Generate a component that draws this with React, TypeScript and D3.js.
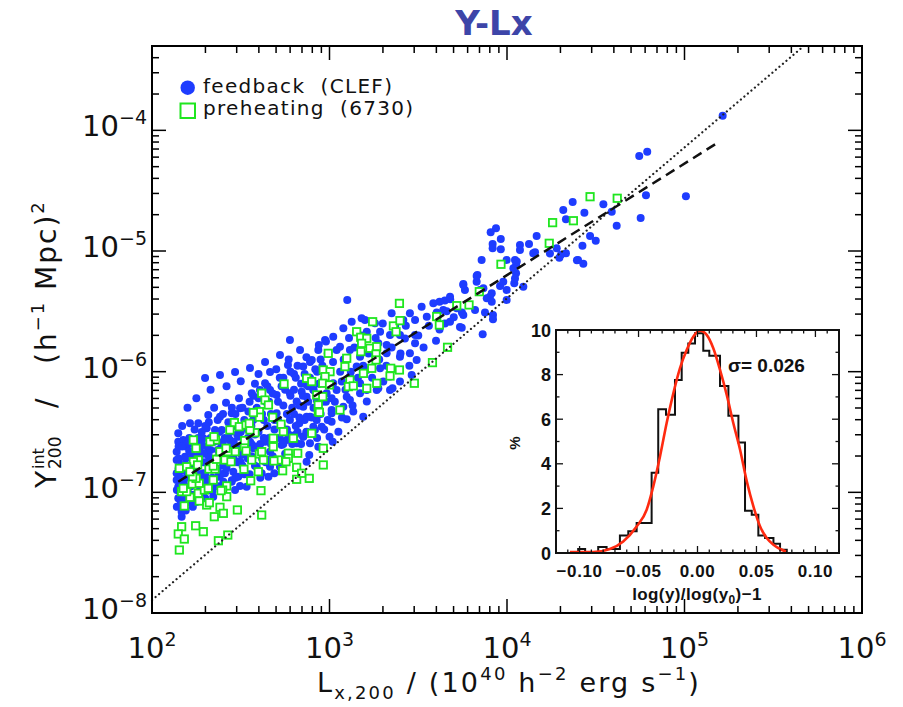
import React from "react";
import * as d3 from "d3";

// ---------- main scatter data: [log10 Lx,200 , log10 Y200] ----------
const feedbackLog: [number, number][] = [
  [5.215, -3.879], [4.745, -4.213], [4.79, -4.177], [4.783, -4.538], [5.008, -4.547], [4.753, -4.726],
  [4.618, -4.79], [4.59, -4.674], [4.543, -4.613], [4.436, -4.683], [4.37, -4.594], [4.317, -4.66],
  [4.332, -4.737], [4.468, -4.876], [4.5, -4.914], [4.425, -4.956], [4.28, -4.978], [4.332, -5.019],
  [4.295, -5.055], [4.394, -5.077], [4.43, -5.105], [4.167, -4.876], [4.124, -4.942], [4.073, -4.95],
  [4.073, -4.992], [4.158, -5.011], [3.938, -4.811], [3.908, -4.845], [3.965, -4.9], [3.919, -4.942],
  [3.919, -4.978], [3.965, -4.986], [3.857, -5.075], [4.045, -5.075], [4.051, -5.116], [4.051, -5.185],
  [3.998, -5.075], [4.041, -5.268], [4.092, -5.296], [3.833, -5.199], [3.829, -5.255], [3.904, -5.379],
  [3.914, -5.42], [3.961, -5.29], [3.754, -5.273], [3.763, -5.323], [3.867, -5.309], [3.65, -5.41],
  [3.62, -5.42], [3.68, -5.4], [3.746, -5.51], [3.921, -5.53], [3.921, -5.565], [3.735, -5.63],
  [3.65, -5.6], [3.604, -5.51],
  [3.1, -5.406], [3.863, -5.69], [3.829, -5.207], [3.754, -5.282], [3.679, -5.379], [3.585, -5.434],
  [3.519, -5.462], [3.453, -5.516], [3.35, -5.516], [3.256, -5.599], [3.2, -5.572], [3.416, -5.572],
  [3.482, -5.572], [3.548, -5.545], [3.641, -5.489], [3.717, -5.475], [3.754, -5.53], [3.82, -5.489],
  [3.876, -5.51], [3.886, -5.392], [3.914, -5.35], [3.998, -5.323], [3.848, -5.323], [3.979, -5.255],
  [4.045, -5.227], [3.998, -5.406], [4.036, -5.143], [4.055, -5.087], [4.148, -5.019], [4.242, -5.02],
  [4.304, -5.03], [4.4, -5.075], [3.679, -5.586], [3.745, -5.636], [3.6, -5.743], [3.482, -5.696],
  [3.482, -5.765], [3.425, -5.726], [3.397, -5.696], [3.341, -5.696], [3.285, -5.669], [3.322, -5.779],
  [3.275, -5.765], [3.453, -5.848], [3.491, -5.903], [3.397, -5.876], [3.322, -5.848], [3.266, -5.82],
  [3.21, -5.669], [3.181, -5.558], [3.125, -5.586], [3.078, -5.641], [3.021, -5.71], [2.975, -5.738],
  [2.937, -5.82], [2.9, -5.903], [2.852, -5.958], [3.059, -5.793], [3.115, -5.82], [3.172, -5.876],
  [3.153, -5.958], [3.21, -5.986], [3.285, -5.972], [3.341, -6.041], [3.303, -6.082], [3.266, -6.152],
  [3.341, -6.152], [3.397, -6.082], [3.463, -6.028], [3.21, -6.152], [3.172, -6.096], [3.115, -6.041],
  [3.069, -6.082], [3.021, -6.096], [2.965, -6.096], [2.909, -6.152], [2.871, -6.207], [2.852, -6.29],
  [2.946, -6.235], [3.012, -6.221], [3.097, -6.207], [3.172, -6.179], [3.078, -6.29], [3.012, -6.318],
  [3.21, -6.248], [3.012, -6.414], [3.05, -6.497], [2.928, -6.4], [2.918, -6.483], [2.871, -6.497],
  [2.852, -6.538], [2.871, -6.373],
  [2.417, -6.257], [2.148, -6.511], [2.148, -6.58], [2.167, -7.202], [2.167, -7.16], [2.496, -6.947],
  [2.618, -6.842], [3.097, -6.395], [3.355, -6.138], [3.275, -6.138], [2.937, -6.622], [2.886, -6.691],
  [2.871, -6.746], [2.689, -6.842], [2.656, -6.87], [2.533, -6.953], [2.468, -6.981], [2.345, -7.036],
  [2.148, -7.049], [2.139, -6.898], [2.139, -6.732], [2.139, -6.663], [2.139, -6.842], [2.148, -6.953],
  [2.186, -6.705], [2.195, -6.622], [2.214, -6.428], [2.261, -6.428], [2.317, -6.359], [2.383, -6.373],
  [2.449, -6.345], [2.496, -6.303], [2.543, -6.331], [2.562, -6.179], [2.608, -6.152], [2.665, -6.152],
  [2.637, -6.096], [2.702, -6.193], [2.777, -6.179], [2.815, -6.248], [2.843, -6.166], [2.871, -6.11],
  [2.702, -6.345], [2.777, -6.4], [2.83, -6.428], [2.852, -6.539], [2.806, -6.525], [2.758, -6.566],
  [2.73, -6.608], [2.665, -6.663], [2.637, -6.58], [2.552, -6.58], [2.486, -6.539], [2.439, -6.566],
  [2.393, -6.483], [2.355, -6.483], [2.308, -6.469], [2.289, -6.552], [2.27, -6.635], [2.299, -6.677],
  [2.214, -6.663], [2.176, -6.566], [2.167, -6.773], [2.176, -6.898], [2.199, -6.856], [2.289, -6.842],
  [2.308, -6.925], [2.374, -6.87], [2.411, -6.842], [2.458, -6.829], [2.449, -6.912], [2.402, -6.912],
  [2.486, -6.87], [2.59, -6.788], [2.665, -6.788], [2.721, -6.788], [2.656, -6.732], [2.486, -6.746],
  [2.505, -6.691], [2.571, -6.635], [2.458, -6.608], [2.815, -6.594], [2.89, -6.594], [3.0, -6.539],
  [2.956, -6.456], [2.909, -6.456], [2.89, -6.373], [2.928, -6.235], [2.984, -6.179], [3.04, -6.152],
  [3.115, -6.235], [3.134, -6.331], [3.19, -6.373], [3.012, -6.345], [3.018, -6.58],
  [2.777, -5.737], [2.834, -5.82], [2.721, -5.862], [2.637, -5.92], [2.552, -5.97], [2.665, -6.003],
  [2.468, -6.003], [2.383, -6.028], [2.299, -6.052], [2.766, -5.945], [2.6, -6.02], [2.5, -6.08],
  [2.42, -6.12], [2.33, -6.15], [2.25, -6.22], [2.2, -6.3], [2.74, -6.05], [2.8, -6.02], [2.7, -5.98],
  [2.58, -6.1],
  [2.16, -7.0], [2.18, -6.93], [2.2, -6.78], [2.22, -6.95], [2.24, -6.88], [2.23, -6.7], [2.19, -6.6],
  [2.25, -6.62], [2.21, -7.08], [2.24, -7.02], [2.17, -6.82], [2.26, -6.55], [2.15, -6.72],
  [2.27, -6.98], [2.29, -6.75], [2.31, -6.62], [2.33, -6.8], [2.35, -6.58], [2.36, -6.72], [2.38, -6.95],
  [2.39, -6.6], [2.28, -6.5], [2.32, -6.42], [2.37, -6.4], [2.34, -6.99], [2.4, -6.78], [2.3, -7.05],
  [2.36, -6.52], [2.41, -6.68], [2.43, -6.55], [2.44, -6.75], [2.46, -6.45], [2.47, -6.88], [2.48, -6.62],
  [2.5, -6.5], [2.51, -6.78], [2.52, -6.4], [2.53, -6.68], [2.54, -6.55], [2.45, -6.3], [2.42, -6.95],
  [2.55, -6.85], [2.49, -6.22], [2.56, -6.45], [2.58, -6.62], [2.59, -6.3], [2.6, -6.5], [2.62, -6.72],
  [2.63, -6.4], [2.64, -6.25], [2.66, -6.55], [2.67, -6.35], [2.68, -6.7], [2.69, -6.48], [2.57, -6.2],
  [2.61, -6.88], [2.65, -6.12], [2.71, -6.4], [2.72, -6.55], [2.74, -6.28], [2.75, -6.68], [2.76, -6.48],
  [2.78, -6.2], [2.79, -6.6], [2.8, -6.35], [2.82, -6.5], [2.83, -6.28], [2.84, -6.1], [2.73, -6.12],
  [2.81, -6.05], [2.77, -5.9], [2.86, -6.4], [2.88, -6.25], [2.89, -6.05], [2.91, -6.3], [2.93, -6.0],
  [2.95, -6.35], [2.96, -5.95], [2.98, -6.25], [2.99, -5.85], [2.87, -5.88], [2.94, -5.78], [2.97, -6.48],
  [2.14, -7.12], [2.15, -6.62], [2.16, -6.88], [2.17, -6.45], [2.18, -7.05], [2.19, -6.72], [2.2, -6.98],
  [2.21, -6.55], [2.22, -6.82], [2.23, -7.12], [2.24, -6.48], [2.25, -6.92], [2.26, -6.7], [2.27, -6.85],
  [2.28, -6.6], [2.29, -7.0], [2.3, -6.45], [2.31, -6.9], [2.32, -6.7], [2.33, -6.55], [2.34, -6.88],
  [2.35, -6.3], [2.36, -6.95], [2.37, -6.65], [2.38, -6.5], [2.39, -6.85], [2.4, -6.35], [2.41, -6.55],
  [2.42, -6.8], [2.43, -6.42], [2.44, -6.62], [2.45, -6.9], [2.46, -6.58], [2.47, -6.35], [2.48, -6.75],
  [2.49, -6.48], [2.5, -6.65], [2.51, -6.3], [2.52, -6.85], [2.53, -6.45], [2.54, -6.72], [2.55, -6.25],
  [2.56, -6.6], [2.57, -6.4], [2.58, -6.78], [2.59, -6.5], [2.6, -6.22], [2.61, -6.6], [2.62, -6.35],
  [2.63, -6.55], [2.64, -6.75], [2.65, -6.45], [2.66, -6.25], [2.67, -6.6], [2.68, -6.18], [2.69, -6.4],
  [2.7, -6.55], [2.71, -6.25], [2.72, -6.05], [2.73, -6.45], [2.74, -6.6], [2.75, -6.15], [2.76, -6.35],
  [2.77, -6.52], [2.78, -6.0], [2.79, -6.3], [2.8, -6.15], [2.81, -6.45], [2.82, -5.95], [2.83, -6.38],
  [2.84, -6.6], [2.85, -6.2], [2.86, -6.02], [2.87, -6.5], [2.88, -6.12], [2.89, -5.92], [2.9, -6.38],
  [2.91, -6.15], [2.92, -5.98], [2.93, -6.55], [2.94, -6.1], [2.95, -5.9], [2.96, -6.25], [2.97, -6.05],
  [2.98, -5.75], [2.99, -6.4], [3.0, -6.0], [3.02, -5.92], [3.03, -6.25], [3.04, -5.82], [3.06, -6.0],
  [3.07, -6.38], [3.08, -5.9], [3.09, -6.15], [3.11, -5.72], [3.12, -6.0], [3.13, -6.28], [3.14, -5.8],
  [3.16, -6.05], [3.18, -5.7], [3.19, -5.95], [3.22, -5.85], [3.24, -6.05], [3.26, -5.72], [3.28, -5.9],
  [3.3, -5.6], [3.32, -5.95], [3.35, -5.8], [3.37, -5.62], [3.4, -5.85], [3.43, -5.62], [3.45, -5.95],
  [3.5, -5.7], [3.53, -5.8], [3.56, -5.62], [3.6, -5.55], [3.62, -5.65], [3.66, -5.5], [3.7, -5.55],
  [2.14, -6.98], [2.15, -6.8], [2.16, -7.1], [2.17, -6.62], [2.18, -6.78], [2.19, -7.15], [2.2, -6.88],
  [2.21, -6.66], [2.22, -7.02], [2.23, -6.6], [2.24, -6.8], [2.25, -7.08], [2.26, -6.85], [2.27, -6.62],
  [2.28, -6.9], [2.29, -6.68], [2.3, -6.85], [2.31, -6.75], [2.32, -6.95], [2.33, -6.65], [2.34, -6.75],
  [2.35, -6.92], [2.37, -6.82], [2.38, -6.68], [2.4, -6.58], [2.42, -6.7], [2.44, -6.5], [2.46, -6.72],
  [2.48, -6.52], [2.5, -6.75], [2.52, -6.6], [2.54, -6.48], [2.56, -6.7], [2.58, -6.52], [2.6, -6.68],
];

const preheatingLog: [number, number][] = [
  [4.468, -4.55], [4.621, -4.563], [4.257, -4.765], [4.374, -4.749], [4.238, -4.936], [3.966, -5.11],
  [3.844, -5.337], [3.717, -5.453], [3.786, -5.447], [3.604, -5.543], [3.619, -5.613],
  [3.394, -5.434], [3.243, -5.586], [3.36, -5.621], [3.397, -5.577], [3.375, -5.669], [3.153, -5.669],
  [3.176, -5.715], [3.21, -5.724], [3.181, -5.765], [3.177, -5.834], [3.228, -5.806], [3.266, -5.793],
  [3.262, -5.854], [3.262, -5.903], [3.238, -5.972], [3.191, -6.014], [3.345, -5.972], [3.341, -6.036],
  [3.394, -5.986], [3.266, -6.096], [3.478, -6.096], [3.58, -5.925], [3.665, -5.798], [3.097, -5.889],
  [3.087, -5.958], [2.993, -5.848], [2.965, -5.986], [3.003, -6.0], [2.975, -6.041], [2.962, -6.096],
  [3.0, -6.11], [3.115, -6.069], [3.106, -6.124], [3.134, -6.118], [3.21, -6.138], [2.871, -6.055],
  [2.9, -6.082], [2.928, -6.193], [2.962, -6.207], [2.937, -6.276], [2.937, -6.331], [3.059, -6.318],
  [2.9, -6.511], [2.965, -6.635],
  [2.744, -6.102], [2.618, -6.179], [2.637, -6.235], [2.656, -6.276], [2.605, -6.331], [2.605, -6.377],
  [2.571, -6.339], [2.464, -6.422], [2.439, -6.483], [2.492, -6.456], [2.53, -6.442], [2.58, -6.506],
  [2.727, -6.436], [2.68, -6.378], [2.74, -6.497], [2.796, -6.552], [2.943, -6.337], [2.965, -6.773],
  [2.821, -6.676], [2.768, -6.676], [2.768, -6.718], [2.736, -6.821], [2.815, -6.793], [2.886, -6.884],
  [2.815, -6.892], [2.843, -6.842], [2.683, -6.552], [2.683, -6.622], [2.711, -6.732], [2.755, -6.746],
  [2.687, -6.74], [2.599, -6.829], [2.556, -6.904], [2.614, -6.986], [2.618, -7.188], [2.481, -7.146],
  [2.421, -6.947], [2.398, -6.981], [2.421, -7.036], [2.383, -7.124], [2.402, -7.174], [2.351, -7.202],
  [2.374, -7.401], [2.427, -7.354], [2.289, -7.326], [2.246, -7.277], [2.308, -7.105], [2.323, -7.086],
  [2.266, -7.072], [2.214, -7.041], [2.182, -7.113], [2.167, -7.285], [2.148, -7.345], [2.182, -7.387],
  [2.154, -7.478], [2.261, -7.008], [2.295, -6.981], [2.167, -6.994], [2.195, -6.994], [2.176, -6.967],
  [2.227, -6.931], [2.345, -6.898], [2.317, -6.967], [2.389, -6.986], [2.266, -6.925], [2.248, -6.884],
  [2.229, -6.87], [2.261, -6.732], [2.233, -6.746], [2.321, -6.807], [2.355, -6.807], [2.154, -6.801],
  [2.195, -6.788], [2.214, -6.829], [2.257, -6.773], [2.345, -6.782], [2.364, -6.726], [2.411, -6.732],
  [2.445, -6.746], [2.518, -6.809], [2.562, -6.732], [2.605, -6.682], [2.628, -6.732], [2.618, -6.663],
  [2.468, -6.663], [2.427, -6.663], [2.383, -6.663], [2.358, -6.566], [2.327, -6.58], [2.233, -6.566],
  [2.248, -6.635], [2.349, -6.539], [2.417, -6.635], [2.52, -6.622], [2.53, -6.657], [2.522, -6.571],
  [2.552, -6.483], [2.548, -6.428],
];

const xDecades = [2, 3, 4, 5, 6];
const yDecades = [-8, -7, -6, -5, -4];
const xDomain: [number, number] = [1e2, 1e6];
const yDomain: [number, number] = [1e-8, 5e-4];

const dottedRelation: [number, number][] = [[1e2, 1.28e-8], [4.7e5, 5e-4]];
const dashedFit: [number, number][] = [[140.6, 1.225e-7], [1.57e5, 8.05e-5]];

// ---------- inset histogram ----------
const histEdges = [-0.1012, -0.0953, -0.0842, -0.0771, -0.0658, -0.0587, -0.0516, -0.0389, -0.0333, -0.0267,
  -0.0191, -0.0134, -0.0078, -0.0021, 0.0049, 0.01, 0.0191, 0.0262, 0.0347, 0.0403, 0.046, 0.0516, 0.0573,
  0.0644, 0.07, 0.0757];
const histValues = [0.18, 0, 0.27, 0.18, 0.78, 0.97, 1.34, 3.6, 6.45, 6.2, 7.76, 8.98, 9.4, 9.85, 9.07, 8.84,
  7.49, 6.15, 4.95, 1.9, 1.72, 0.78, 0.67, 0.42, 0.15];
const fitX = [-0.1082, -0.0885, -0.0743, -0.063, -0.0516, -0.0431, -0.0375, -0.0318, -0.0262, -0.0205, -0.0149,
  -0.0092, -0.0036, 0.0021, 0.0078, 0.0134, 0.0191, 0.0248, 0.0304, 0.0361, 0.0418, 0.0474, 0.0531, 0.0587,
  0.0644, 0.07, 0.0751];
const fitY = [0.04, 0.04, 0.18, 0.52, 1.19, 1.94, 2.99, 4.33, 5.82, 7.16, 8.28, 9.1, 9.7, 9.97, 9.78, 9.18,
  8.21, 7.09, 5.82, 4.63, 3.21, 2.09, 1.19, 0.67, 0.37, 0.18, 0.07];
const insetXTicks = [-0.1, -0.05, 0, 0.05, 0.1];
const insetXTickLabels = ["\u22120.10", "\u22120.05", "0.00", "0.05", "0.10"];
const insetYTicks = [0, 2, 4, 6, 8, 10];

const BLUE = "#1e3cff";
const GREEN = "#1fe61f";
const SANS = "DejaVu Sans";
const HELV = "Liberation Sans";
const MINUS = "\u2212";

export default function App() {
  const L = 152, R = 862, T = 46, B = 613;
  const x = d3.scaleLog().domain(xDomain).range([L, R]);
  const y = d3.scaleLog().domain(yDomain).range([B, T]);

  const iL = 556, iR = 839, iT = 330, iB = 553;
  const ix = d3.scaleLinear().domain([-0.12, 0.12]).range([iL, iR]);
  const iy = d3.scaleLinear().domain([0, 10]).range([iB, iT]);

  const xTicks: { v: number; major: boolean }[] = [];
  for (let d = 2; d <= 5; d++) for (let m = 1; m <= 9; m++) xTicks.push({ v: m * Math.pow(10, d), major: m === 1 });
  xTicks.push({ v: 1e6, major: true });
  const yTicks: { v: number; major: boolean }[] = [];
  for (let d = -8; d <= -4; d++)
    for (let m = 1; m <= 9; m++) {
      const v = m * Math.pow(10, d);
      if (v < 4.99e-4) yTicks.push({ v, major: m === 1 });
    }

  const line = d3.line<[number, number]>().x((d) => x(d[0])).y((d) => y(d[1]));

  const histPts: [number, number][] = [[histEdges[0], 0]];
  histValues.forEach((v, i) => histPts.push([histEdges[i], v]));
  histPts.push([histEdges[histEdges.length - 1], histValues[histValues.length - 1]]);
  histPts.push([histEdges[histEdges.length - 1], 0]);
  const histPath = d3.line<[number, number]>().x((d) => ix(d[0])).y((d) => iy(d[1])).curve(d3.curveStepAfter)(histPts) || "";
  const fitPath = d3.line<number>().x((d) => ix(d)).y((_, i) => iy(fitY[i])).curve(d3.curveMonotoneX)(fitX) || "";

  const insetXMinor = d3.range(-12, 13).map((k) => k / 100);
  const insetYMinor = d3.range(0, 11);

  return (
    <svg width={903} height={707} style={{ position: "absolute", left: 0, top: 0, background: "#fff" }}>
      <rect x={0} y={0} width={903} height={707} fill="#fff" />
      {/* title */}
      <text x={494} y={35} textAnchor="middle" fontFamily={SANS} fontWeight="bold" fontSize={34} fill="#3d45a8">Y-Lx</text>

      {/* scatter */}
      <g>
        {feedbackLog.map((p, i) => (
          <circle key={"b" + i} cx={x(Math.pow(10, p[0]))} cy={y(Math.pow(10, p[1]))} r={4} fill={BLUE} />
        ))}
        {preheatingLog.map((p, i) => (
          <rect key={"g" + i} x={x(Math.pow(10, p[0])) - 3.7} y={y(Math.pow(10, p[1])) - 3.7} width={7.4} height={7.4}
            fill="#fff" stroke={GREEN} strokeWidth={1.8} />
        ))}
      </g>

      {/* relations */}
      <path d={line(dottedRelation) || ""} fill="none" stroke="#222" strokeWidth={2.2} strokeDasharray="0.1 4.5" strokeLinecap="round" />
      <path d={line(dashedFit) || ""} fill="none" stroke="#111" strokeWidth={2.5} strokeDasharray="10 6" />

      {/* frame & ticks */}
      <rect x={L} y={T} width={R - L} height={B - T} fill="none" stroke="#000" strokeWidth={2} />
      {xTicks.map((t, i) => {
        const px = x(t.v);
        const len = t.major ? 14 : 7;
        return (
          <g key={"xt" + i} stroke="#000" strokeWidth={1.5}>
            <line x1={px} x2={px} y1={B} y2={B - len} />
            <line x1={px} x2={px} y1={T} y2={T + len} />
          </g>
        );
      })}
      {yTicks.map((t, i) => {
        const py = y(t.v);
        const len = t.major ? 14 : 7;
        return (
          <g key={"yt" + i} stroke="#000" strokeWidth={1.5}>
            <line x1={L} x2={L + len} y1={py} y2={py} />
            <line x1={R} x2={R - len} y1={py} y2={py} />
          </g>
        );
      })}

      {/* tick labels */}
      {xDecades.map((d) => (
        <text key={"xl" + d} x={x(Math.pow(10, d))} y={658} textAnchor="middle" fontFamily={SANS} fontSize={29} fill="#111">
          10<tspan dy={-12} fontSize={19}>{String(d)}</tspan>
        </text>
      ))}
      {yDecades.map((d) => (
        <text key={"yl" + d} x={147} y={y(Math.pow(10, d)) + 6} textAnchor="end" fontFamily={SANS} fontSize={29} fill="#111">
          10<tspan dy={-12} fontSize={19}>{MINUS + Math.abs(d)}</tspan>
        </text>
      ))}

      {/* axis titles */}
      <text x={509} y={692} textAnchor="middle" fontFamily={SANS} fontSize={27} fill="#111" letterSpacing={2.2} style={{ whiteSpace: "pre" }}>
        L<tspan dy={7} fontSize={18}>x,200</tspan><tspan dy={-7}>{" / (10"}</tspan><tspan dy={-12} fontSize={18}>40</tspan>
        <tspan dy={12}>{" h"}</tspan><tspan dy={-12} fontSize={18}>{MINUS + "2"}</tspan><tspan dy={12}>{" erg s"}</tspan>
        <tspan dy={-12} fontSize={18}>{MINUS + "1"}</tspan><tspan dy={12}>)</tspan>
      </text>
      <g transform="translate(56,488) rotate(-90)" fill="#111" fontFamily={SANS}>
        <text x={0} y={0} fontSize={28}>Y</text>
        <text x={19} y={-12} fontSize={16}>int</text>
        <text x={19} y={5} fontSize={17}>200</text>
        <text x={80} y={0} fontSize={28}>/</text>
        <text x={124} y={0} fontSize={28} letterSpacing={2} style={{ whiteSpace: "pre" }}>
          (h<tspan dy={-12} fontSize={18}>{MINUS + "1"}</tspan><tspan dy={12}>{" Mpc)"}</tspan><tspan dy={-12} fontSize={18}>2</tspan>
        </text>
      </g>

      {/* legend */}
      <circle cx={187.7} cy={87.7} r={7.2} fill={BLUE} />
      <text x={203} y={93} fontFamily={SANS} fontSize={20} letterSpacing={1.3} fill="#111" style={{ whiteSpace: "pre" }}>feedback  (CLEF)</text>
      <rect x={180.5} y={103.5} width={14.5} height={14.5} fill="#fff" stroke={GREEN} strokeWidth={2} />
      <text x={203} y={115} fontFamily={SANS} fontSize={20} letterSpacing={1.3} fill="#111" style={{ whiteSpace: "pre" }}>preheating  (6730)</text>

      {/* inset */}
      <rect x={iL} y={iT} width={iR - iL} height={iB - iT} fill="#fff" />
      <path d={histPath} fill="none" stroke="#111" strokeWidth={2} />
      <path d={fitPath} fill="none" stroke="#ff2a10" strokeWidth={2.6} />
      <rect x={iL} y={iT} width={iR - iL} height={iB - iT} fill="none" stroke="#111" strokeWidth={2} />
      {insetXMinor.map((v, i) => {
        const px = ix(v);
        const major = Math.abs(Math.round(v * 100) % 5) === 0;
        const len = major ? 7 : 3.5;
        return (
          <g key={"ixm" + i} stroke="#111" strokeWidth={1.3}>
            <line x1={px} x2={px} y1={iB} y2={iB - len} />
            <line x1={px} x2={px} y1={iT} y2={iT + len} />
          </g>
        );
      })}
      {insetYMinor.map((v, i) => {
        const py = iy(v);
        const len = v % 2 === 0 ? 7 : 3.5;
        return (
          <g key={"iym" + i} stroke="#111" strokeWidth={1.3}>
            <line x1={iL} x2={iL + len} y1={py} y2={py} />
            <line x1={iR} x2={iR - len} y1={py} y2={py} />
          </g>
        );
      })}
      {insetXTicks.map((v, i) => (
        <text key={"ixl" + i} x={ix(v)} y={577} textAnchor="middle" fontFamily={HELV} fontWeight="bold" fontSize={17} letterSpacing={0.6} fill="#111">
          {insetXTickLabels[i]}
        </text>
      ))}
      {insetYTicks.map((v) => (
        <text key={"iyl" + v} x={551} y={iy(v) + 6.5} textAnchor="end" fontFamily={HELV} fontWeight="bold" fontSize={18} fill="#111">
          {String(v)}
        </text>
      ))}
      <text x={697} y={600} textAnchor="middle" fontFamily={HELV} fontWeight="bold" fontSize={17} letterSpacing={0.4} fill="#111">
        log(y)/log(y<tspan dy={4} fontSize={12}>0</tspan><tspan dy={-4}>{")" + MINUS + "1"}</tspan>
      </text>
      <text transform="translate(520,443) rotate(-90)" textAnchor="middle" fontFamily={HELV} fontWeight="bold" fontSize={15} fill="#111">%</text>
      <text x={728} y={372} fontFamily={HELV} fontWeight="bold" fontSize={19} fill="#111" style={{ whiteSpace: "pre" }}>
        {"\u03c3= 0.026"}
      </text>
    </svg>
  );
}
